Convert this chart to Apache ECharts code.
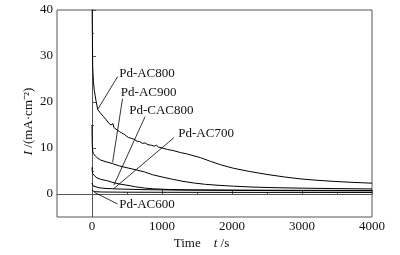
<!DOCTYPE html>
<html>
<head>
<meta charset="utf-8">
<script src="https://cdn.jsdelivr.net/npm/echarts@6/dist/echarts.min.js"></script>
<style>
  html, body { margin: 0; padding: 0; background: #fff; }
  #chart { width: 400px; height: 255px; }
</style>
</head>
<body>
<div id="chart"></div>
<script>
// [t (s), I (mA/cm2)]
const pdAC800 = [[0, 48], [3, 38], [10, 27.7], [20, 24.5], [33, 22.5], [57, 20.3], [81, 18.4], [120, 17.6],
  [160, 16.9], [200, 16.2], [240, 15.4], [270, 15.0], [290, 14.8], [300, 15.3], [310, 14.5], [330, 14.3],
  [360, 13.9], [390, 13.6], [420, 13.3], [460, 13.0], [490, 12.6], [505, 13.0], [520, 12.3], [560, 12.1],
  [602, 11.9], [640, 11.5], [680, 11.4], [720, 11.0], [760, 11.1], [800, 10.7], [850, 10.6], [886, 10.4],
  [920, 10.6], [950, 10.2], [1000, 10.0], [1076, 9.7], [1170, 9.4], [1266, 9.0], [1360, 8.7], [1455, 8.3],
  [1550, 7.9], [1693, 7.1], [1850, 6.3], [2020, 5.6], [2250, 4.9], [2500, 4.25], [2750, 3.7], [3000, 3.25],
  [3200, 3.0], [3445, 2.75], [3700, 2.55], [4000, 2.35]];
const pdAC900 = [[0, 15], [3, 11], [8, 9.5], [20, 8.8], [50, 8.2], [81, 7.8], [120, 7.4], [200, 7.0],
  [294, 6.6], [390, 6.1], [500, 5.7], [600, 5.35], [750, 4.8], [863, 4.2], [1000, 3.7], [1150, 3.2],
  [1300, 2.75], [1450, 2.4], [1620, 2.1], [1800, 1.9], [2020, 1.7], [2300, 1.5], [2600, 1.38],
  [3000, 1.27], [3500, 1.17], [4000, 1.1]];
const pdCAC800 = [[0, 5.8], [4, 5.0], [10, 4.4], [25, 4.0], [60, 3.6], [120, 3.2], [213, 2.9], [300, 2.5],
  [400, 2.15], [545, 1.8], [625, 1.55], [750, 1.3], [880, 1.12], [1100, 0.98], [1400, 0.9], [2000, 0.85],
  [3000, 0.8], [4000, 0.76]];
const pdAC700 = [[0, 2.4], [5, 2.0], [15, 1.75], [40, 1.5], [100, 1.35], [200, 1.2], [400, 1.08],
  [700, 0.96], [1200, 0.86], [2000, 0.78], [3000, 0.72], [4000, 0.68]];
const pdAC600 = [[0, 0.75], [10, 0.6], [40, 0.5], [150, 0.43], [500, 0.39], [1500, 0.36], [4000, 0.33]];

const seriesNames = ["Pd-AC800", "Pd-AC900", "Pd-CAC800", "Pd-AC700", "Pd-AC600"];
const seriesData = [pdAC800, pdAC900, pdCAC800, pdAC700, pdAC600];
// label anchor (left-middle of text) and leader line [from, to], in data units
const labelAt = [[388, 26.2], [412, 22.0], [531, 18.1], [1233, 13.1], [388, -2.4]];
const leaders = [
  [[366, 25.5], [81, 18.4]],
  [[436, 20.7], [294, 6.85]],
  [[758, 16.8], [313, 1.95]],
  [[1171, 12.25], [313, 1.2]],
  [[365, -2.16], [33, 0.37]]
];

const xMajor = [0, 1000, 2000, 3000, 4000];
const xMinor = [500, 1500, 2500, 3500];
const yMajor = [0, 10, 20, 30, 40];
const yMinor = [5, 15, 25, 35];

const FONT = "'Liberation Serif', 'Times New Roman', serif";
const AXIS = "#555";

const chart = echarts.init(document.getElementById("chart"), null, { renderer: "canvas" });

const series = seriesNames.map((name, i) => ({
  name,
  type: "line",
  data: seriesData[i],
  showSymbol: false,
  symbol: "none",
  lineStyle: { color: "#000", width: 1 },
  z: 3,
  markLine: {
    silent: true,
    symbol: "none",
    label: { show: false },
    lineStyle: { color: "#000", width: 0.8, type: "solid" },
    data: [[{ coord: leaders[i][0] }, { coord: leaders[i][1] }]]
  },
  markPoint: {
    silent: true,
    symbol: "circle",
    symbolSize: 0,
    data: [{ coord: labelAt[i], value: name }],
    label: {
      show: true,
      position: "right",
      distance: 0,
      formatter: name,
      color: "#111",
      fontFamily: FONT,
      fontSize: 13
    }
  }
}));

const plain = (v) => String(v);

const option = {
  animation: false,
  backgroundColor: "#fff",
  grid: { left: 57, right: 28, top: 10, bottom: 38, show: true, borderColor: AXIS, borderWidth: 1 },
  xAxis: [
    {
      type: "value",
      min: -500,
      max: 4000,
      position: "bottom",
      axisLine: { show: true, lineStyle: { color: AXIS, width: 1 } },
      axisTick: { show: true, inside: true, length: 4, customValues: xMajor, lineStyle: { color: AXIS } },
      axisLabel: { customValues: xMajor, formatter: plain, margin: 3, color: "#111", fontFamily: FONT, fontSize: 13 },
      splitLine: { show: false },
      name: "Time    {i|t} /s",
      nameLocation: "middle",
      nameGap: 20,
      nameMoveOverlap: false,
      nameTextStyle: {
        color: "#111", fontFamily: FONT, fontSize: 13, padding: [0, 26, 0, 0],
        rich: { i: { fontStyle: "italic", fontFamily: FONT, fontSize: 13, color: "#111" } }
      }
    },
    {
      type: "value",
      min: -500,
      max: 4000,
      position: "bottom",
      axisLine: { show: false },
      axisTick: { show: true, inside: true, length: 2, customValues: xMinor, lineStyle: { color: AXIS } },
      axisLabel: { show: false },
      splitLine: { show: false }
    }
  ],
  yAxis: [
    {
      type: "value",
      min: -5,
      max: 40,
      position: "left",
      axisLine: { show: true, lineStyle: { color: AXIS, width: 1 } },
      axisTick: { show: true, inside: true, length: 4, customValues: yMajor, lineStyle: { color: AXIS } },
      axisLabel: { customValues: yMajor, formatter: plain, margin: 4, color: "#111", fontFamily: FONT, fontSize: 13 },
      splitLine: { show: false },
      name: "{i|I} /(mA·cm⁻²)",
      nameLocation: "middle",
      nameRotate: 90,
      nameGap: 22,
      nameMoveOverlap: false,
      nameTextStyle: {
        color: "#111", fontFamily: FONT, fontSize: 13, padding: [0, 16, 0, 0],
        rich: { i: { fontStyle: "italic", fontFamily: FONT, fontSize: 13, color: "#111" } }
      }
    },
    {
      type: "value",
      min: -5,
      max: 40,
      position: "left",
      axisLine: { show: false },
      axisTick: { show: true, inside: true, length: 2, customValues: yMinor, lineStyle: { color: AXIS } },
      axisLabel: { show: false },
      splitLine: { show: false }
    }
  ],
  series
};

chart.setOption(option);
</script>
</body>
</html>
